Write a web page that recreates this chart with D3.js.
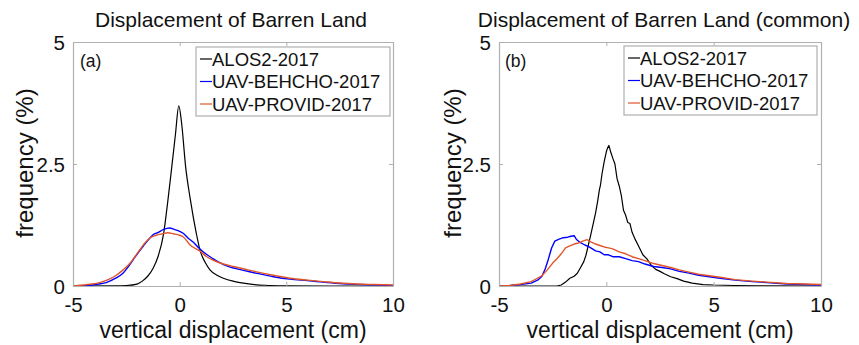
<!DOCTYPE html>
<html>
<head>
<meta charset="utf-8">
<script src="https://cdn.jsdelivr.net/npm/d3@7"></script>
<style>
body{margin:0;background:#fff;}
text{font-family:"Liberation Sans",Arial,Helvetica,sans-serif;fill:#111;}
</style>
</head>
<body>
<svg id="fig" width="859" height="345"></svg>
<script>
// ---- data ----
var xTicks=[-5,0,5,10];
var xTickLabels=["-5","0","5","10"];
var yTicks=[0,2.5,5];
var yTickLabels=["0","2.5","5"];
var seriesNames=["ALOS2-2017","UAV-BEHCHO-2017","UAV-PROVID-2017"];
var titles=["Displacement of Barren Land","Displacement of Barren Land (common)"];
var panelTags=["(a)","(b)"];

// panel (a)
var alosA=[[-5,0],[-3,0.003],[-2.5,0.01],[-2,0.04],[-1.75,0.1],[-1.5,0.2],[-1.25,0.36],[-1,0.62],[-0.75,1.08],[-0.55,1.76],[-0.37,2.44],[-0.2,3.1],[-0.04,3.69],[0.1,3.3],[0.28,2.44],[0.49,1.8],[0.78,1.08],[0.95,0.74],[1.2,0.48],[1.42,0.33],[1.75,0.22],[2.05,0.16],[2.5,0.1],[2.83,0.07],[3.5,0.03],[4,0.015],[5,0.005],[7,0],[10,0]];
var behchoA=[[-5,0],[-4.5,0.005],[-4.2,0.015],[-3.8,0.04],[-3.44,0.07],[-3,0.16],[-2.66,0.26],[-2.4,0.4],[-2.19,0.53],[-1.95,0.68],[-1.72,0.81],[-1.5,0.93],[-1.25,1.05],[-1,1.1],[-0.75,1.16],[-0.47,1.19],[-0.25,1.16],[0,1.12],[0.16,1.08],[0.4,0.98],[0.63,0.9],[0.9,0.78],[1.25,0.65],[1.56,0.56],[2.05,0.44],[2.6,0.36],[3.1,0.31],[3.61,0.26],[4.4,0.19],[5.17,0.14],[6,0.11],[6.73,0.08],[7.5,0.05],[8.5,0.03],[10,0.01]];
var providA=[[-5,0],[-4.53,0.02],[-4.1,0.04],[-3.75,0.07],[-3.35,0.13],[-2.97,0.22],[-2.65,0.33],[-2.34,0.46],[-2.1,0.6],[-1.87,0.74],[-1.65,0.87],[-1.41,0.98],[-1.1,1.04],[-0.8,1.07],[-0.55,1.09],[-0.3,1.07],[0,1.04],[0.16,1.01],[0.49,0.84],[0.94,0.72],[1.27,0.6],[1.56,0.53],[2.05,0.45],[2.5,0.4],[2.83,0.37],[3.2,0.33],[3.61,0.29],[4.4,0.22],[5.17,0.16],[6,0.12],[6.73,0.09],[7.5,0.06],[8.3,0.04],[9.1,0.03],[10,0.02]];

// panel (b)
var alosB=[[-5,0],[-2.3,0],[-2.1,0.02],[-1.9,0.08],[-1.7,0.16],[-1.5,0.2],[-1.35,0.26],[-1.2,0.38],[-1.05,0.5],[-0.95,0.63],[-0.75,1.0],[-0.6,1.3],[-0.5,1.5],[-0.4,1.75],[-0.32,1.98],[-0.28,2.05],[-0.2,2.3],[-0.1,2.55],[0,2.75],[0.05,2.82],[0.12,2.88],[0.2,2.75],[0.3,2.62],[0.4,2.5],[0.5,2.2],[0.6,2.05],[0.7,1.85],[0.8,1.55],[0.9,1.45],[1.0,1.3],[1.1,1.28],[1.2,1.1],[1.35,0.95],[1.5,0.82],[1.7,0.64],[1.9,0.55],[2.1,0.42],[2.3,0.34],[2.5,0.3],[2.7,0.25],[3.0,0.19],[3.3,0.15],[3.6,0.1],[4.0,0.06],[4.5,0.03],[5.0,0.02],[6,0.01],[7,0.005],[10,0]];
var behchoB=[[-5,0],[-4.5,0.01],[-4,0.03],[-3.5,0.06],[-3.2,0.12],[-3.0,0.2],[-2.85,0.35],[-2.7,0.55],[-2.55,0.78],[-2.4,0.92],[-2.2,0.96],[-2.0,0.99],[-1.8,1.0],[-1.65,1.02],[-1.5,1.03],[-1.4,0.96],[-1.25,0.9],[-1.0,0.84],[-0.8,0.8],[-0.5,0.72],[-0.3,0.7],[-0.1,0.64],[0.1,0.64],[0.3,0.6],[0.6,0.6],[0.9,0.56],[1.2,0.52],[1.5,0.5],[1.8,0.45],[2.2,0.4],[2.6,0.38],[3.0,0.35],[3.4,0.3],[3.8,0.27],[4.3,0.22],[4.8,0.19],[5.3,0.16],[6,0.12],[6.8,0.09],[7.5,0.07],[8.4,0.04],[9.2,0.03],[10,0.02]];
var providB=[[-5,0],[-4.5,0.01],[-4,0.04],[-3.5,0.09],[-3.0,0.21],[-2.75,0.33],[-2.5,0.47],[-2.3,0.56],[-2.1,0.66],[-1.9,0.78],[-1.7,0.82],[-1.5,0.86],[-1.3,0.88],[-1.1,0.92],[-0.9,0.95],[-0.7,0.9],[-0.5,0.86],[-0.3,0.83],[-0.1,0.8],[0.1,0.78],[0.3,0.76],[0.6,0.7],[0.9,0.66],[1.2,0.6],[1.5,0.56],[1.8,0.52],[2.2,0.46],[2.6,0.42],[3.0,0.38],[3.4,0.33],[3.8,0.29],[4.3,0.24],[4.8,0.21],[5.3,0.18],[6,0.13],[6.8,0.1],[7.5,0.08],[8.4,0.05],[9.2,0.04],[10,0.03]];

var colors=["#000000","#0000ff","#e0552a"];

var svg=d3.select("#fig");

var panels=[
    {left:73,right:393,top:42,bottom:286,data:[alosA,behchoA,providA],smooth:true,
     legend:{x:196,y:47,w:194,h:69},ylabX:33,titleX:231,tagX:80},
    {left:499,right:821,top:42,bottom:286,data:[alosB,behchoB,providB],smooth:false,
     legend:{x:624,y:46,w:193,h:69},ylabX:461,titleX:664,tagX:505}
];

panels.forEach(function(p,i){
    var x=d3.scaleLinear().domain([-5,10]).range([p.left,p.right]);
    var y=d3.scaleLinear().domain([0,5]).range([p.bottom,p.top]);
    var g=svg.append("g");

    // lines
    var line=d3.line()
    .x(function(d){return x(d[0]);})
    .y(function(d){return y(d[1]);})
    .curve(p.smooth?d3.curveMonotoneX:d3.curveLinear);
    p.data.forEach(function(s,k){
        g.append("path").datum(s)
        .attr("d",line)
        .attr("fill","none")
        .attr("stroke",colors[k])
        .attr("stroke-width",k==0?1.2:1.4)
        .attr("stroke-linejoin","round");
    });

    // box + inward ticks on all four sides
    var axB=g.append("g").attr("transform","translate(0,"+p.bottom+")")
    .call(d3.axisBottom(x).tickValues(xTicks).tickSizeInner(-4).tickSizeOuter(0)
        .tickFormat(function(d,j){return xTickLabels[j];}));
    var axT=g.append("g").attr("transform","translate(0,"+p.top+")")
    .call(d3.axisTop(x).tickValues(xTicks).tickSizeInner(-4).tickSizeOuter(0).tickFormat(""));
    var axL=g.append("g").attr("transform","translate("+p.left+",0)")
    .call(d3.axisLeft(y).tickValues(yTicks).tickSizeInner(-4).tickSizeOuter(0)
        .tickFormat(function(d,j){return yTickLabels[j];}));
    var axR=g.append("g").attr("transform","translate("+p.right+",0)")
    .call(d3.axisRight(y).tickValues(yTicks).tickSizeInner(-4).tickSizeOuter(0).tickFormat(""));
    [axB,axT,axL,axR].forEach(function(a){
        a.select(".domain").attr("stroke","#b0b0b0").attr("stroke-width",1.2);
        a.selectAll(".tick line").attr("stroke","#b0b0b0");
    });
    axB.selectAll(".tick text").style("font-size","20.5px").attr("fill","#111")
    .attr("dy","0").attr("y",26);
    axL.selectAll(".tick text").style("font-size","20.5px").attr("fill","#111")
    .attr("dy","0.36em").attr("x",-8);

    // title, axis labels
    g.append("text").text(titles[i]).attr("text-anchor","middle")
    .style("font-size","21px").attr("x",p.titleX).attr("y",27);
    g.append("text").text("vertical displacement (cm)").attr("text-anchor","middle")
    .style("font-size","23px").attr("x",(p.left+p.right)/2).attr("y",338);
    g.append("text").text("frequency (%)").attr("text-anchor","middle")
    .style("font-size","24px")
    .attr("transform","translate("+p.ylabX+","+((p.top+p.bottom)/2-1)+") rotate(-90)");

    // panel tag
    g.append("text").text(panelTags[i]).style("font-size","17.5px")
    .attr("x",p.tagX).attr("y",67);

    // legend
    var L=p.legend;
    var lg=g.append("g");
    lg.append("rect").attr("x",L.x).attr("y",L.y).attr("width",L.w).attr("height",L.h)
    .attr("fill","#fff").attr("stroke","#b0b0b0").attr("stroke-width",1.2);
    seriesNames.forEach(function(n,k){
        var ry=L.y+12+k*22.5;
        lg.append("line").attr("x1",L.x+4).attr("x2",L.x+16).attr("y1",ry).attr("y2",ry)
        .attr("stroke",colors[k]).attr("stroke-width",1.2);
        lg.append("text").text(n).style("font-size","18.5px").attr("dy","0.36em")
        .attr("x",L.x+16).attr("y",ry);
    });
});
</script>
</body>
</html>
